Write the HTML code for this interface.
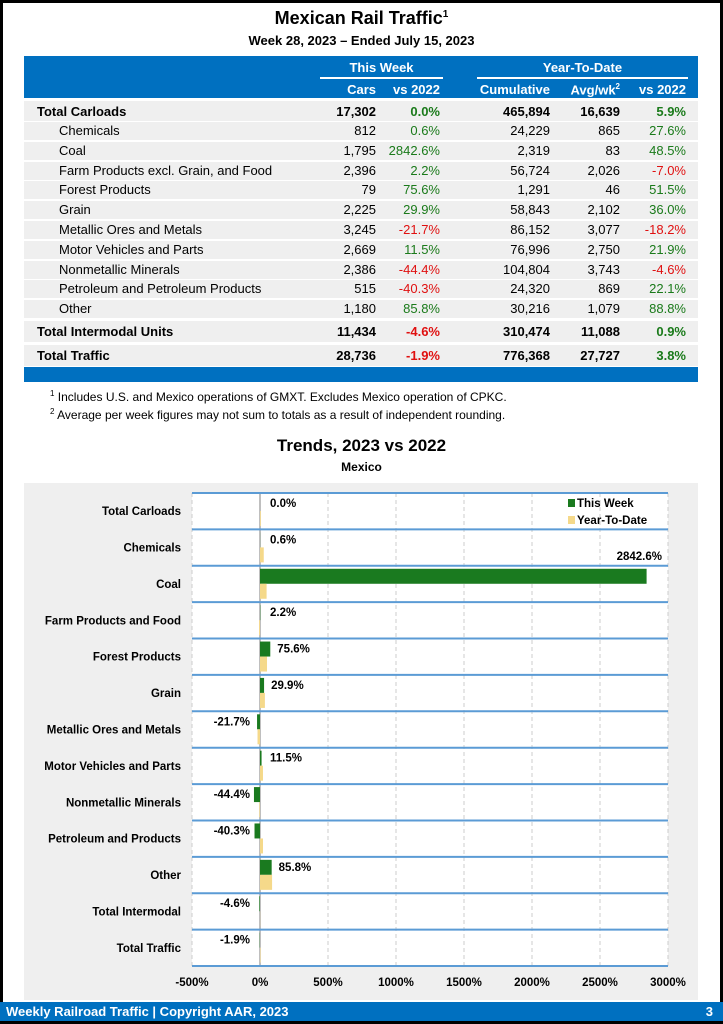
<!DOCTYPE html>
<html><head><meta charset="utf-8"><style>
*{margin:0;padding:0;box-sizing:border-box}
body{width:723px;height:1024px;position:relative;background:#fff;font-family:"Liberation Sans",Arial,sans-serif;color:#000;overflow:hidden}
.frame{position:absolute;left:0;top:0;width:723px;height:1024px;border:3px solid #000}
.t{position:absolute;white-space:nowrap}
.row{position:absolute;left:24px;width:674px;height:18px;background:#efefef;font-size:13px}
.row span{position:absolute;top:2px}
.g{color:#1a7a1a}.rd{color:#e01010}
.b{font-weight:bold}
</style></head><body>
<div class="frame"></div>
<div class="t b" style="left:0;width:723px;text-align:center;top:8px;font-size:18px">Mexican Rail Traffic<sup style="font-size:10px">1</sup></div>
<div class="t b" style="left:0;width:723px;text-align:center;top:33px;font-size:13px">Week 28, 2023 – Ended July 15, 2023</div>
<div style="position:absolute;left:24px;top:56px;width:674px;height:42px;background:#0070c0"></div>
<div class="t b" style="left:320px;width:123px;text-align:center;top:60px;color:#fff;font-size:13px">This Week</div>
<div style="position:absolute;left:320px;top:77px;width:123px;height:2px;background:#fff"></div>
<div class="t b" style="left:477px;width:211px;text-align:center;top:60px;color:#fff;font-size:13px">Year-To-Date</div>
<div style="position:absolute;left:477px;top:77px;width:211px;height:2px;background:#fff"></div>
<div class="t b" style="right:347px;top:82px;color:#fff;font-size:13px">Cars</div>
<div class="t b" style="right:283px;top:82px;color:#fff;font-size:13px">vs 2022</div>
<div class="t b" style="right:173px;top:82px;color:#fff;font-size:13px">Cumulative</div>
<div class="t b" style="right:103px;top:82px;color:#fff;font-size:13px">Avg/wk<sup style="font-size:8px">2</sup></div>
<div class="t b" style="right:37px;top:82px;color:#fff;font-size:13px">vs 2022</div>

<div id="rows"></div>
<div style="position:absolute;left:24px;top:367px;width:674px;height:15px;background:#0070c0"></div>
<div class="t" style="left:50px;top:389px;font-size:12px"><sup style="font-size:8px">1</sup> Includes U.S. and Mexico operations of GMXT. Excludes Mexico operation of CPKC.</div>
<div class="t" style="left:50px;top:407px;font-size:12px"><sup style="font-size:8px">2</sup> Average per week figures may not sum to totals as a result of independent rounding.</div>

<div class="t b" style="left:0;width:723px;text-align:center;top:436px;font-size:17px">Trends, 2023 vs 2022</div>
<div class="t b" style="left:0;width:723px;text-align:center;top:460px;font-size:12px">Mexico</div>

<svg style="position:absolute;left:0;top:0" width="723" height="1024" id="ch" font-family="Liberation Sans, Arial, sans-serif"></svg>

<div style="position:absolute;left:0;top:1002px;width:723px;height:19px;background:#0070c0"></div>
<div class="t b" style="left:6px;top:1004px;color:#fff;font-size:13px">Weekly Railroad Traffic | Copyright AAR, 2023</div>
<div class="t b" style="right:10px;top:1004px;color:#fff;font-size:13px">3</div>

<script>
var rows=[
["Total Carloads","17,302","0.0%","465,894","16,639","5.9%",1],
["Chemicals","812","0.6%","24,229","865","27.6%",0],
["Coal","1,795","2842.6%","2,319","83","48.5%",0],
["Farm Products excl. Grain, and Food","2,396","2.2%","56,724","2,026","-7.0%",0],
["Forest Products","79","75.6%","1,291","46","51.5%",0],
["Grain","2,225","29.9%","58,843","2,102","36.0%",0],
["Metallic Ores and Metals","3,245","-21.7%","86,152","3,077","-18.2%",0],
["Motor Vehicles and Parts","2,669","11.5%","76,996","2,750","21.9%",0],
["Nonmetallic Minerals","2,386","-44.4%","104,804","3,743","-4.6%",0],
["Petroleum and Petroleum Products","515","-40.3%","24,320","869","22.1%",0],
["Other","1,180","85.8%","30,216","1,079","88.8%",0],
["Total Intermodal Units","11,434","-4.6%","310,474","11,088","0.9%",1],
["Total Traffic","28,736","-1.9%","776,368","27,727","3.8%",1]];
var h="";
rows.forEach(function(r,i){
 var top=i==0?101:(i<11?122+(i-1)*19.8:(i==11?321:345));
 var hh=i==0?20:(i>=11?21:18);
 var c=function(v){return v.charAt(0)=='-'?'rd':'g'};
 var b=r[6]?' b':'';
 var tp=r[6]?3:1;
 h+='<div class="row'+b+'" style="top:'+top+'px;height:'+hh+'px;font-size:13px">'+
 '<span style="left:'+(r[6]?13:35)+'px;top:'+tp+'px">'+r[0]+'</span>'+
 '<span style="right:322px;top:'+tp+'px">'+r[1]+'</span>'+
 '<span class="'+c(r[2])+'" style="right:258px;top:'+tp+'px">'+r[2]+'</span>'+
 '<span style="right:148px;top:'+tp+'px">'+r[3]+'</span>'+
 '<span style="right:78px;top:'+tp+'px">'+r[4]+'</span>'+
 '<span class="'+c(r[5])+'" style="right:12px;top:'+tp+'px">'+r[5]+'</span></div>';
});
document.getElementById('rows').innerHTML=h;

var cats=["Total Carloads","Chemicals","Coal","Farm Products and Food","Forest Products","Grain","Metallic Ores and Metals","Motor Vehicles and Parts","Nonmetallic Minerals","Petroleum and Products","Other","Total Intermodal","Total Traffic"];
var tw=[0,0.6,2842.6,2.2,75.6,29.9,-21.7,11.5,-44.4,-40.3,85.8,-4.6,-1.9];
var yt=[5.9,27.6,48.5,-7,51.5,36,-18.2,21.9,-4.6,22.1,88.8,0.9,3.8];
var s='<rect x="24" y="483" width="674" height="517" fill="#efefef"/>';
var L=192,R=668,T=493,B=966,Z=260,k=68/500,bh=(B-T)/13;
s+='<rect x="'+L+'" y="'+T+'" width="'+(R-L)+'" height="'+(B-T)+'" fill="#fff"/>';
for(var v=-500;v<=3000;v+=500){var x=Z+v*k;
 if(v!=0)s+='<line x1="'+x+'" y1="'+T+'" x2="'+x+'" y2="'+B+'" stroke="#ccc" stroke-dasharray="4,3"/>';
 s+='<text x="'+x+'" y="986" font-size="11.5" font-weight="bold" text-anchor="middle">'+v+'%</text>';}
s+='<line x1="'+Z+'" y1="'+T+'" x2="'+Z+'" y2="'+B+'" stroke="#aaa" stroke-width="1.5"/>';
for(var i=0;i<=13;i++){var y=T+i*bh;s+='<line x1="'+L+'" y1="'+y+'" x2="'+R+'" y2="'+y+'" stroke="#5b9bd5" stroke-width="2"/>';}
for(var i=0;i<13;i++){var y0=T+i*bh;
 s+='<text x="181" y="'+(y0+bh/2+4)+'" font-size="11.5" font-weight="bold" text-anchor="end">'+cats[i]+'</text>';
 var w=tw[i]*k,x=w<0?Z+w:Z;
 s+='<rect x="'+x+'" y="'+(y0+3)+'" width="'+Math.abs(w)+'" height="15" fill="#1a7a1f"/>';
 var w2=yt[i]*k,x2=w2<0?Z+w2:Z;
 s+='<rect x="'+x2+'" y="'+(y0+18)+'" width="'+Math.abs(w2)+'" height="15" fill="#f5d98a"/>';
 var lab=tw[i].toFixed(1)+'%';
 if(i==2)s+='<text x="662" y="'+(y0-6)+'" font-size="11.5" font-weight="bold" text-anchor="end">'+lab+'</text>';
 else if(tw[i]<0)s+='<text x="250" y="'+(y0+14)+'" font-size="11.5" font-weight="bold" text-anchor="end">'+lab+'</text>';
 else s+='<text x="'+Math.max(270,Z+w+7)+'" y="'+(y0+14)+'" font-size="11.5" font-weight="bold">'+lab+'</text>';
}
s+='<rect x="568" y="499" width="7" height="8" fill="#1a7a1f"/><text x="577" y="507" font-size="11.5" font-weight="bold">This Week</text>';
s+='<rect x="568" y="516" width="7" height="8" fill="#f5d98a"/><text x="577" y="524" font-size="11.5" font-weight="bold">Year-To-Date</text>';
document.getElementById('ch').innerHTML=s;
</script>
</body></html>
